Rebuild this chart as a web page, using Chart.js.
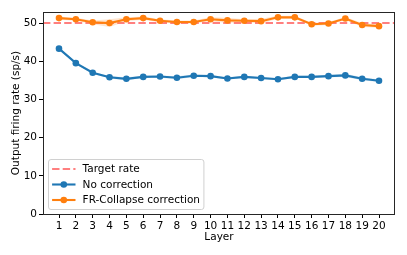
<!DOCTYPE html>
<html>
<head>
<meta charset="utf-8">
<script src="https://cdn.jsdelivr.net/npm/chart.js@4"></script>
<style>
  body { margin: 0; background: #fff; }
  #wrap { width: 407px; height: 255px; }
</style>
</head>
<body>
<div id="wrap"><canvas id="firing" width="407" height="255"></canvas></div>
<script>
var layers = [1, 2, 3, 4, 5, 6, 7, 8, 9, 10, 11, 12, 13, 14, 15, 16, 17, 18, 19, 20];
var noCorrection = [43.3, 39.5, 37.0, 35.8, 35.4, 35.9, 36.0, 35.7, 36.2, 36.1,
                    35.5, 35.9, 35.6, 35.3, 35.9, 35.9, 36.1, 36.3, 35.4, 34.9];
var noCorrectionStd = [0.3, 0.3, 0.3, 0.3, 0.4, 0.3, 0.3, 0.4, 0.3, 0.3,
                       0.3, 0.3, 0.3, 0.3, 0.3, 0.3, 0.3, 0.4, 0.4, 0.3];
var frCollapse = [51.3, 51.0, 50.2, 50.0, 51.0, 51.3, 50.6, 50.3, 50.3, 51.0,
                  50.7, 50.6, 50.5, 51.5, 51.5, 49.7, 49.9, 51.2, 49.5, 49.2];
var frCollapseStd = [0.4, 0.4, 0.5, 1.0, 0.5, 0.4, 0.4, 0.4, 0.4, 0.5,
                     0.7, 0.4, 0.6, 0.4, 0.4, 0.4, 0.4, 0.4, 0.5, 0.4];
var targetRate = 50;
var yTicks = [0, 10, 20, 30, 40, 50];
var xMin = 0.05, xMax = 20.95;

var blue = "#1f77b4";
var orange = "#ff7f0e";
var targetColor = "rgba(255, 0, 0, 0.5)";
var font = { family: "DejaVu Sans", size: 10.5 };

function pts(vals) {
    return layers.map(function (l, i) { return { x: l, y: vals[i] }; });
}
function band(vals, std, sign) {
    return layers.map(function (l, i) { return { x: l, y: vals[i] + sign * std[i] }; });
}

// frame around the plot area
var frame = {
    id: "frame",
    afterDatasetsDraw: function (chart) {
        var a = chart.chartArea, ctx = chart.ctx;
        ctx.save();
        ctx.strokeStyle = "#262626";
        ctx.lineWidth = 1;
        ctx.strokeRect(a.left + 0.5, a.top + 0.5, a.right - a.left - 1, a.bottom - a.top);
        ctx.restore();
    }
};

// matplotlib style legend, lower left
var legendBox = {
    id: "legendBox",
    afterDraw: function (chart) {
        var a = chart.chartArea, ctx = chart.ctx;
        var items = [
            { text: "Target rate", color: targetColor, dash: true },
            { text: "No correction", color: blue },
            { text: "FR-Collapse correction", color: orange }
        ];
        ctx.save();
        ctx.font = font.size + "px " + font.family;
        var tw = 0;
        items.forEach(function (it) { tw = Math.max(tw, ctx.measureText(it.text).width); });
        var bx = a.left + 5.5, bw = 34 + tw + 4, bh = 50, by = a.bottom - 4.5 - bh;
        ctx.beginPath();
        ctx.roundRect(bx, by, bw, bh, 2.5);
        ctx.fillStyle = "rgba(255,255,255,0.8)";
        ctx.fill();
        ctx.strokeStyle = "#d0d0d0";
        ctx.lineWidth = 1;
        ctx.stroke();
        items.forEach(function (it, i) {
            var y = by + 9.5 + i * 15.5;
            var hx = bx + 3.6;
            ctx.strokeStyle = it.color;
            ctx.lineWidth = 2.1;
            ctx.setLineDash(it.dash ? [7.4, 3.2] : []);
            ctx.beginPath();
            ctx.moveTo(hx, y);
            ctx.lineTo(hx + 23.4, y);
            ctx.stroke();
            ctx.setLineDash([]);
            if (!it.dash) {
                ctx.fillStyle = it.color;
                ctx.beginPath();
                ctx.arc(hx + 11.7, y, 3.3, 0, Math.PI * 2);
                ctx.fill();
            }
            ctx.fillStyle = "#000";
            ctx.textBaseline = "middle";
            ctx.fillText(it.text, hx + 30.5, y + 0.5);
        });
        ctx.restore();
    }
};

new Chart("firing", {
    type: "line",
    data: {
        datasets: [{
            label: "Target rate",
            data: [{ x: xMin, y: targetRate }, { x: xMax, y: targetRate }],
            borderColor: targetColor,
            borderWidth: 2.1,
            borderDash: [7.4, 3.2],
            pointRadius: 0,
            order: 10
        }, {
            label: "nc-low",
            data: band(noCorrection, noCorrectionStd, -1),
            borderWidth: 0,
            pointRadius: 0,
            fill: false,
            order: 6
        }, {
            label: "nc-high",
            data: band(noCorrection, noCorrectionStd, 1),
            borderWidth: 0,
            pointRadius: 0,
            backgroundColor: "rgba(31, 119, 180, 0.2)",
            fill: "-1",
            order: 6
        }, {
            label: "fr-low",
            data: band(frCollapse, frCollapseStd, -1),
            borderWidth: 0,
            pointRadius: 0,
            fill: false,
            order: 6
        }, {
            label: "fr-high",
            data: band(frCollapse, frCollapseStd, 1),
            borderWidth: 0,
            pointRadius: 0,
            backgroundColor: "rgba(255, 127, 14, 0.2)",
            fill: "-1",
            order: 6
        }, {
            label: "No correction",
            data: pts(noCorrection),
            borderColor: blue,
            backgroundColor: blue,
            borderWidth: 2.1,
            pointRadius: 3.3,
            pointBorderWidth: 0,
            order: 2
        }, {
            label: "FR-Collapse correction",
            data: pts(frCollapse),
            borderColor: orange,
            backgroundColor: orange,
            borderWidth: 2.1,
            pointRadius: 3.3,
            pointBorderWidth: 0,
            order: 1
        }]
    },
    options: {
        responsive: false,
        animation: false,
        layout: { padding: { left: 0, right: 12, top: 12, bottom: 0 } },
        plugins: {
            legend: { display: false },
            tooltip: { enabled: false }
        },
        scales: {
            x: {
                type: "linear",
                min: xMin,
                max: xMax,
                afterBuildTicks: function (axis) {
                    axis.ticks = layers.map(function (v) { return { value: v }; });
                },
                afterFit: function (axis) { axis.height = 41; },
                border: { display: false },
                grid: { drawOnChartArea: false, tickLength: 4, tickColor: "#000", tickWidth: 1 },
                ticks: { color: "#000", font: font, padding: 1.5, maxRotation: 0, autoSkip: false },
                title: { display: true, text: "Layer", color: "#000", font: font, padding: { bottom: 11.5 } }
            },
            y: {
                min: 0,
                max: 52.9,
                afterBuildTicks: function (axis) {
                    axis.ticks = yTicks.map(function (v) { return { value: v }; });
                },
                afterFit: function (axis) { axis.width = 43; },
                border: { display: false },
                grid: { drawOnChartArea: false, tickLength: 4, tickColor: "#000", tickWidth: 1 },
                ticks: { color: "#000", font: font, padding: 2 },
                title: { display: true, text: "Output firing rate (sp/s)", color: "#000", font: font, padding: { top: 9.5 } }
            }
        }
    },
    plugins: [frame, legendBox]
});
</script>
</body>
</html>
